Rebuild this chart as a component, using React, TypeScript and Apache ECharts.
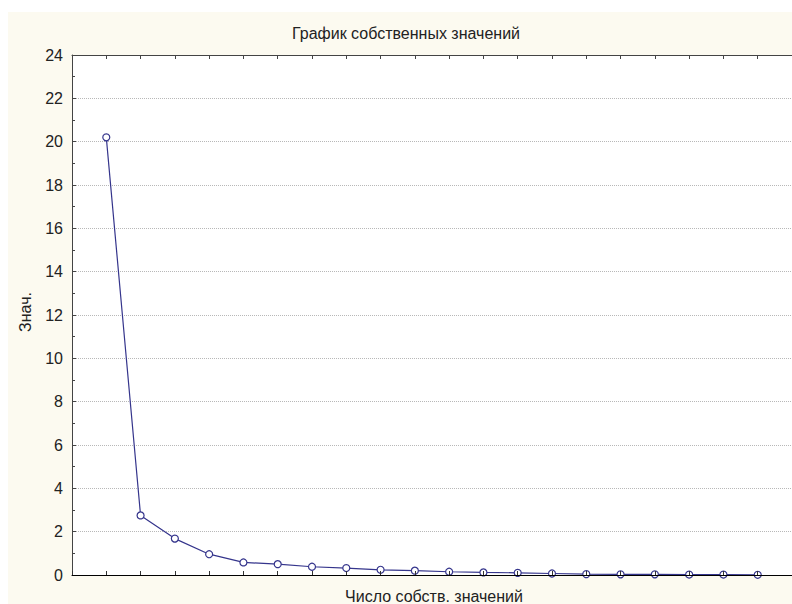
import { useEffect, useRef } from "react";
import * as echarts from "echarts";

const componentNumbers = [1, 2, 3, 4, 5, 6, 7, 8, 9, 10, 11, 12, 13, 14, 15, 16, 17, 18, 19, 20];
const eigenValues = [20.2, 2.75, 1.68, 0.96, 0.58, 0.5, 0.38, 0.32, 0.24, 0.2, 0.15, 0.12, 0.1, 0.07, 0.04, 0.03, 0.03, 0.02, 0.02, 0.01];
const titleText = "График собственных значений";
const xAxisName = "Число собств. значений";
const yAxisName = "Знач.";
const yMin = 0;
const yMax = 24;
const yInterval = 2;
const xMin = 0;
const xMax = 21;

const FONT = "'Liberation Sans', Arial, sans-serif";

export default function App() {
  const ref = useRef<HTMLDivElement>(null);
  useEffect(() => {
    if (!ref.current) return;
    const chart = echarts.init(ref.current, null, { renderer: "svg" });
    const seriesData = componentNumbers.map((n, i) => [n, eigenValues[i]]);
    chart.setOption({
      animation: false,
      backgroundColor: "#ffffff",
      textStyle: { fontFamily: FONT },
      graphic: [
        {
          type: "rect",
          z: -10,
          silent: true,
          shape: { x: 8, y: 12, width: 784, height: 592 },
          style: { fill: "#fcfaf0" },
        },
        {
          type: "text",
          x: 406,
          y: 33,
          style: {
            text: titleText,
            fontFamily: FONT,
            fontSize: 16,
            fill: "#222",
            align: "center",
            verticalAlign: "middle",
          },
        },
        {
          type: "text",
          x: 434,
          y: 596,
          style: {
            text: xAxisName,
            fontFamily: FONT,
            fontSize: 16,
            fill: "#222",
            align: "center",
            verticalAlign: "middle",
          },
        },
        {
          type: "text",
          x: 25,
          y: 312,
          rotation: Math.PI / 2,
          style: {
            text: yAxisName,
            fontFamily: FONT,
            fontSize: 16,
            fill: "#222",
            align: "center",
            verticalAlign: "middle",
          },
        },
      ],
      grid: {
        left: 72,
        top: 55,
        right: 0,
        bottom: 29,
        show: true,
        backgroundColor: "#ffffff",
        borderWidth: 0,
      },
      xAxis: [
        {
          type: "value",
          min: xMin,
          max: xMax,
          interval: 1,
          position: "bottom",
          axisLine: { show: true, onZero: false, lineStyle: { color: "#000", width: 1 } },
          axisTick: { show: true, inside: true, length: 4, lineStyle: { color: "#333" } },
          axisLabel: { show: false },
          splitLine: { show: false },
          z: 3,
        },
        {
          type: "value",
          min: xMin,
          max: xMax,
          interval: 1,
          position: "top",
          axisLine: { show: true, onZero: false, lineStyle: { color: "#444", width: 1 } },
          axisTick: { show: true, inside: true, length: 4, lineStyle: { color: "#444" } },
          axisLabel: { show: false },
          splitLine: { show: false },
        },
      ],
      yAxis: {
        type: "value",
        min: yMin,
        max: yMax,
        interval: yInterval,
        axisLine: { show: true, onZero: false, lineStyle: { color: "#444", width: 1 } },
        axisTick: { show: true, inside: true, length: 4, lineStyle: { color: "#444" } },
        minorTick: { show: true, splitNumber: 2, length: 3, lineStyle: { color: "#444" } },
        axisLabel: {
          color: "#222",
          fontSize: 16,
          fontFamily: FONT,
          margin: 9,
        },
        splitLine: {
          show: true,
          lineStyle: { color: "#b8b8b8", type: "dotted", width: 1 },
        },
      },
      series: [
        {
          type: "line",
          data: seriesData,
          xAxisIndex: 0,
          symbol: "circle",
          symbolSize: 7,
          showAllSymbol: true,
          clip: true,
          lineStyle: { color: "#35358c", width: 1.2 },
          itemStyle: { color: "#ffffff", borderColor: "#35358c", borderWidth: 1.2 },
          z: 2,
        },
      ],
    });
    return () => chart.dispose();
  }, []);
  return (
    <div
      ref={ref}
      style={{ position: "absolute", left: 0, top: 0, width: 792, height: 604 }}
    />
  );
}
